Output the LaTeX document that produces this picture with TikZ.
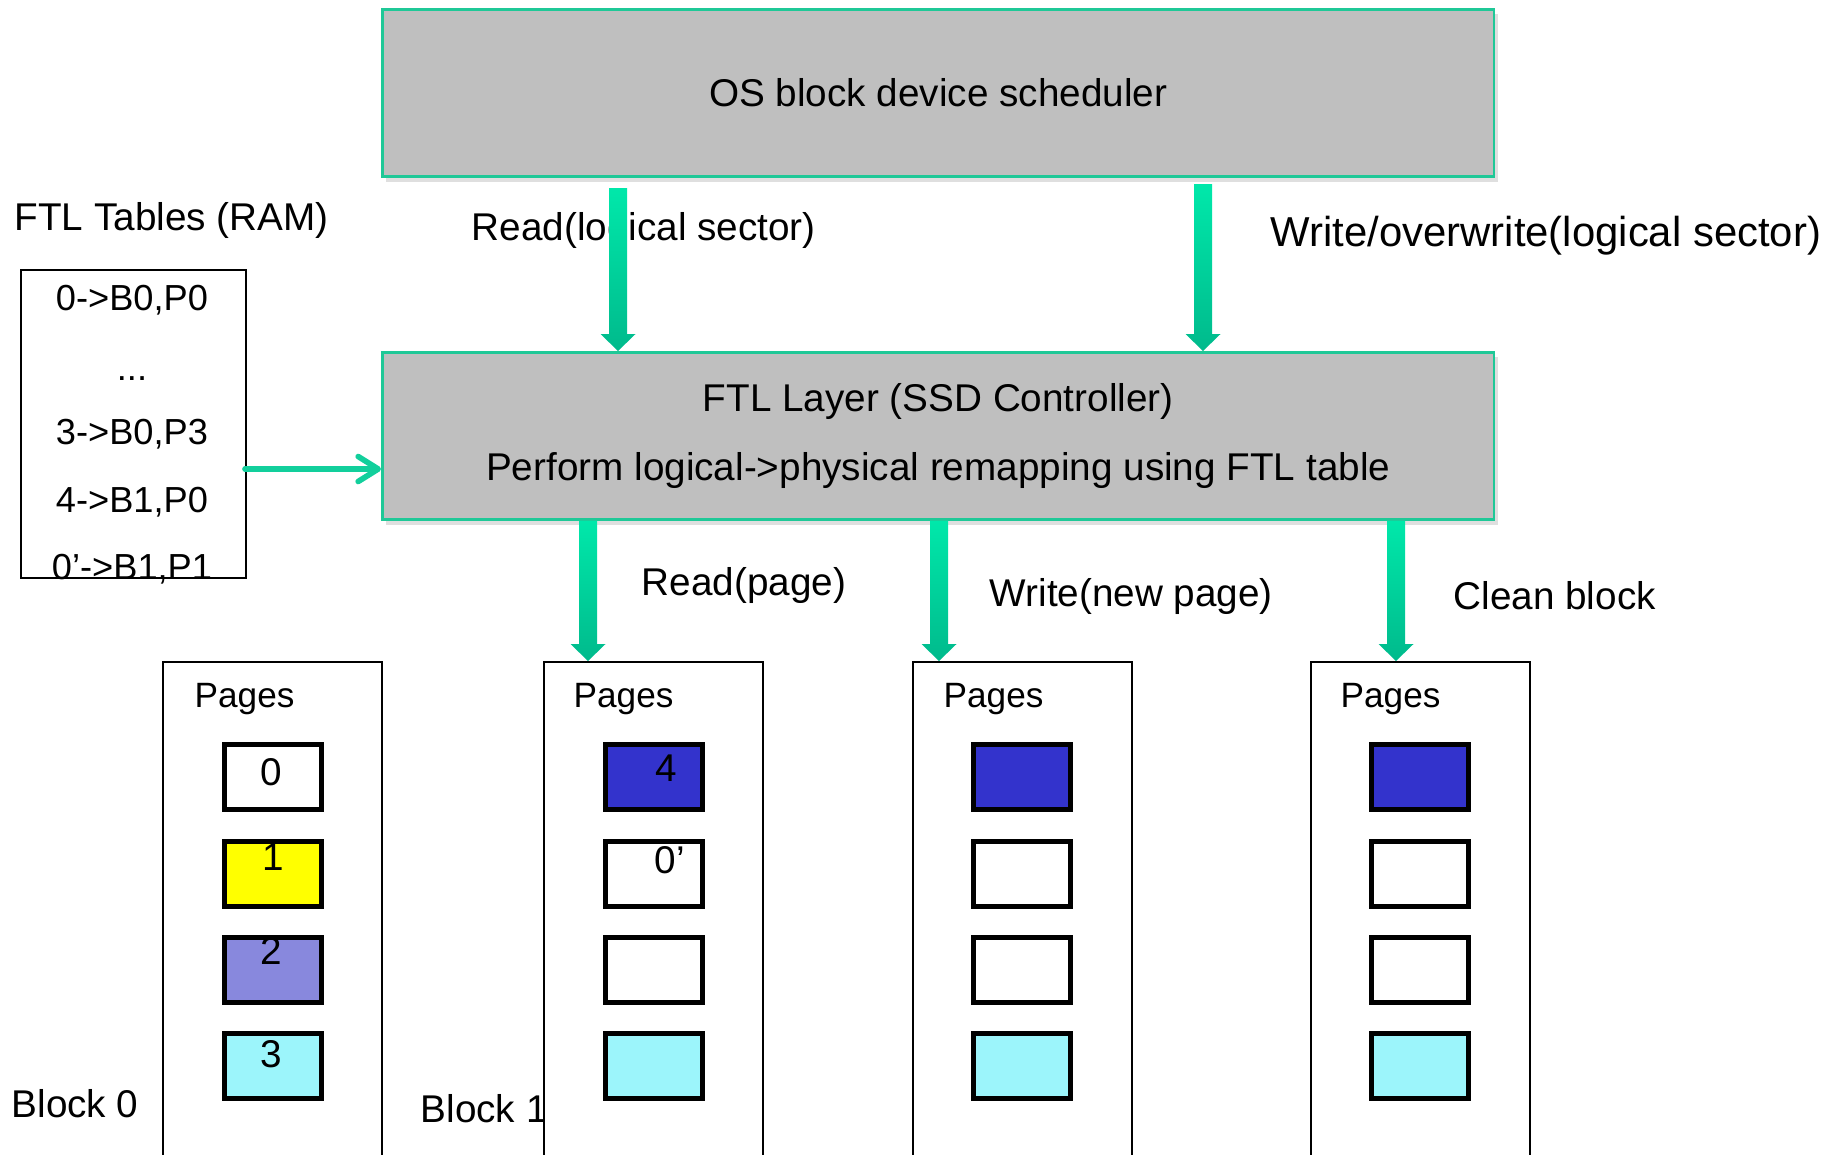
\documentclass[tikz,border=0pt]{standalone}
\usepackage{fontspec}
\setmainfont{Liberation Sans}
\usetikzlibrary{arrows.meta,shadows,calc}
\definecolor{boxgray}{HTML}{BFBFBF}
\definecolor{boxgreen}{HTML}{1FC897}
\definecolor{arrowgreen}{HTML}{12CF9C}
\definecolor{arrowtop}{HTML}{00E8AA}
\definecolor{arrowbot}{HTML}{00BA8C}
\definecolor{pgblue}{HTML}{3333CC}
\definecolor{pgyellow}{HTML}{FFFF00}
\definecolor{pgpurple}{HTML}{8888DD}
\definecolor{pgcyan}{HTML}{9CF5FB}
\newcommand{\grarrow}[2]{%
  \shade[top color=arrowtop, bottom color=arrowbot]
    ($(#1)+(-9,0)$) -- ($(#2)+(-9,-17)$) -- ($(#2)+(-17.5,-17)$) -- (#2)
    -- ($(#2)+(17.5,-17)$) -- ($(#2)+(9,-17)$) -- ($(#1)+(9,0)$) -- cycle;}
\begin{document}
\begin{tikzpicture}[x=0.01cm,y=-0.01cm,
  font=\fontsize{11}{13}\selectfont,
  layerbox/.style={draw=boxgreen, line width=0.8pt, fill=boxgray, anchor=north west,
    minimum width=11.11cm, minimum height=1.67cm, inner sep=0pt,
    drop shadow={opacity=0.25, shadow xshift=0.04cm, shadow yshift=-0.05cm}},
  tablebox/.style={draw=black, line width=0.6pt, fill=white, anchor=north west,
    minimum width=2.25cm, minimum height=3.08cm, inner sep=0pt},
  blockbox/.style={draw=black, line width=0.6pt, fill=white, anchor=north west,
    minimum width=2.19cm, minimum height=6cm, inner sep=0pt},
  pagebox/.style={draw=black, line width=1.3pt, anchor=north west,
    minimum width=0.97cm, minimum height=0.65cm, inner sep=0pt},
  lbl/.style={anchor=west, inner sep=0pt},
  ctr/.style={anchor=center, inner sep=0pt},
  entry/.style={anchor=center, inner sep=0pt, font=\fontsize{10.3}{12}\selectfont},
  pglbl/.style={anchor=west, inner sep=0pt, font=\fontsize{10}{12}\selectfont},
  thinarrow/.style={draw=arrowgreen, line width=1.6pt, line cap=round,
    -{Straight Barb[width=0.25cm,length=0.2cm,round]}}
]
\clip (0,0) rectangle (1839,1154);
\useasboundingbox (0,0) rectangle (1839,1154);

% top layers
\node[layerbox] (os) at (381,8) {};
\node[ctr] (ostext) at (os.center) {OS block device scheduler};
\node[layerbox, align=center, font=\fontsize{11}{19.4}\selectfont] (ftl) at (381,351)
  {FTL Layer (SSD Controller)\\Perform logical->physical remapping using FTL table};

% labels of top arrows
\node[lbl] (rdlbl) at (471,230) {Read(logical sector)};
\node[lbl, font=\fontsize{11.9}{14}\selectfont] (wrlbl) at (1270,236) {Write/overwrite(logical sector)};

\coordinate (rdstart) at (618,188);
\coordinate (wrstart) at (1203,184);
\coordinate (rdend) at (rdstart |- ftl.north);
\coordinate (wrend) at (wrstart |- ftl.north);
\grarrow{rdstart}{rdend}
\grarrow{wrstart}{wrend}

% FTL table
\node[lbl] (tbltitle) at (14,220) {FTL Tables (RAM)};
\node[tablebox] (tbl) at (20,269) {};
\node[entry] (e1) at (132,300) {0->B0,P0};
\node[entry] (e2) at (132,379) {...};
\node[entry] (e3) at (132,434) {3->B0,P3};
\node[entry] (e4) at (132,502) {4->B1,P0};
\node[entry] (e5) at (132,569) {0’->B1,P1};
\coordinate (tblout) at (245,469);
\draw[thinarrow] (tblout) -- (tblout -| ftl.west);

% block labels (drawn under the blocks)
\node[lbl] (bl0) at (11,1104) {Block 0};
\node[lbl] (bl1) at (420,1109) {Block 1};

% blocks
\node[blockbox] (b0) at (162,661) {};
\node[blockbox] (b1) at (543,661) {};
\node[blockbox] (b2) at (912,661) {};
\node[blockbox] (b3) at (1310,661) {};

\node[pglbl] (pg0) at (194,699) {Pages};
\node[pglbl] (pg1) at (573,699) {Pages};
\node[pglbl] (pg2) at (943,699) {Pages};
\node[pglbl] (pg3) at (1340,699) {Pages};

% block 0 pages
\node[pagebox, fill=white]    (p00) at (222,742) {};
\node[pagebox, fill=pgyellow] (p01) at (222,839) {};
\node[pagebox, fill=pgpurple] (p02) at (222,935) {};
\node[pagebox, fill=pgcyan]   (p03) at (222,1031) {};
\node[ctr] (t00) at (271,772) {0};
\node[ctr] (t01) at (273,857) {1};
\node[ctr] (t02) at (271,951) {2};
\node[ctr] (t03) at (271,1054) {3};

% block 1 pages
\node[pagebox, fill=pgblue] (p10) at (603,742) {};
\node[pagebox, fill=white]  (p11) at (603,839) {};
\node[pagebox, fill=white]  (p12) at (603,935) {};
\node[pagebox, fill=pgcyan] (p13) at (603,1031) {};
\node[ctr] (t10) at (666,768) {4};
\node[ctr] (t11) at (670,860) {0’};

% block 2 pages
\node[pagebox, fill=pgblue] (p20) at (971,742) {};
\node[pagebox, fill=white]  (p21) at (971,839) {};
\node[pagebox, fill=white]  (p22) at (971,935) {};
\node[pagebox, fill=pgcyan] (p23) at (971,1031) {};

% block 3 pages
\node[pagebox, fill=pgblue] (p30) at (1369,742) {};
\node[pagebox, fill=white]  (p31) at (1369,839) {};
\node[pagebox, fill=white]  (p32) at (1369,935) {};
\node[pagebox, fill=pgcyan] (p33) at (1369,1031) {};

% bottom labels
\node[lbl] (rplbl) at (641,585) {Read(page)};
\node[lbl] (wplbl) at (989,596) {Write(new page)};
\node[lbl] (cblbl) at (1453,596) {Clean block};

% bottom arrows
\coordinate (a1) at (588,0);
\coordinate (a2) at (939,0);
\coordinate (a3) at (1396,0);
\coordinate (a1s) at (a1 |- ftl.south);
\coordinate (a2s) at (a2 |- ftl.south);
\coordinate (a3s) at (a3 |- ftl.south);
\coordinate (a1e) at (a1 |- b1.north);
\coordinate (a2e) at (a2 |- b2.north);
\coordinate (a3e) at (a3 |- b3.north);
\grarrow{a1s}{a1e}
\grarrow{a2s}{a2e}
\grarrow{a3s}{a3e}
\end{tikzpicture}
\end{document}
